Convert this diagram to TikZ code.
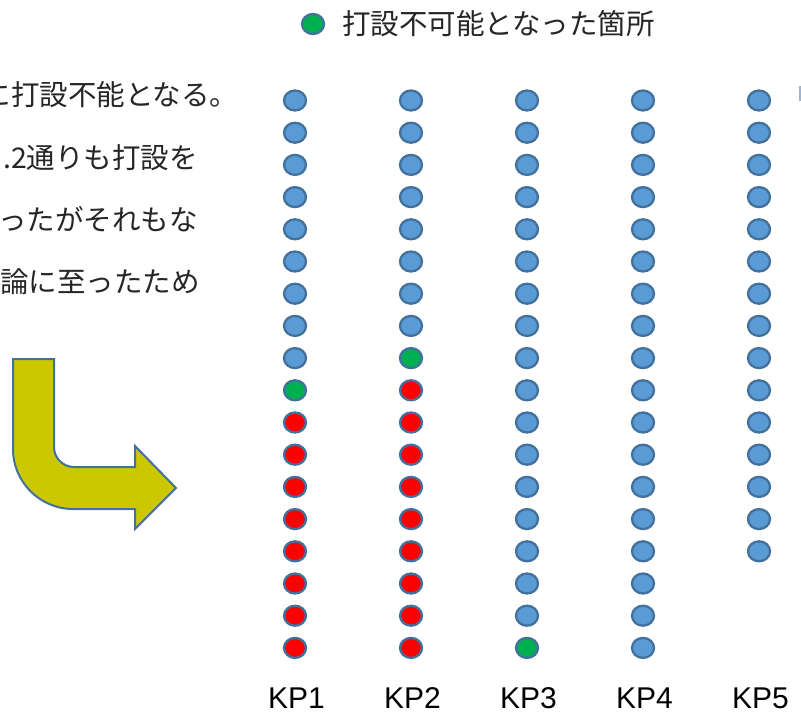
\documentclass[tikz,border=0pt]{standalone}
\usepackage{fontspec}
\usetikzlibrary{shapes.geometric}
\newfontfamily\jpfont{Noto Sans CJK JP}
\newfontfamily\kpfont{Liberation Sans}
\definecolor{dotblue}{HTML}{5B9BD5}
\definecolor{dotline}{HTML}{41719C}
\definecolor{dotred}{HTML}{FF0000}
\definecolor{dotgreen}{HTML}{00B050}
\definecolor{arrowfill}{HTML}{CCC800}
\definecolor{boxline}{HTML}{9DB3D0}
\tikzset{
  dot/.style={ellipse, minimum width=22pt, minimum height=20pt, inner sep=0pt,
              draw=dotline, line width=2.3pt, fill=dotblue},
  ng/.style={dot, fill=dotgreen},
  bad/.style={dot, fill=dotred},
  jptext/.style={inner sep=0pt, anchor=base west, font=\jpfont\fontsize{28.5}{34}\selectfont, text=black!85},
  kp/.style={inner sep=0pt, anchor=base, font=\kpfont\fontsize{30}{36}\selectfont, text=black},
  bentarrow/.style={fill=arrowfill, draw=dotline, line width=2pt, line join=miter}
}
\begin{document}
\begin{tikzpicture}[x=1pt,y=-1pt]
\useasboundingbox (0,0) rectangle (801,715);
\clip (0,0) rectangle (801,715);
\fill[white] (0,0) rectangle (801,715);

% legend
\node[ng] (legdot) at (313,24) {};
\node[jptext] (legtxt) at (342,34) {打設不可能となった箇所};

% left text (cut off at the left edge)
\node[jptext] (t1) at (-17.5,105) {に打設不能となる。};
\node[jptext] (t2) at (3,168) {.2通りも打設を};
\node[jptext] (t3) at (-2,230) {ったがそれもな};
\node[jptext] (t4) at (0,292) {論に至ったため};

% bent arrow
\draw[bentarrow] (13,359) -- (54,359) -- (54,447)
  .. controls (54,458) and (63,467) .. (74,467)
  -- (135,467) -- (135,446) -- (176,488) -- (135,529) -- (135,509)
  -- (73,509) .. controls (40,509) and (13,482) .. (13,449) -- cycle;

% partial box edge at top right
\draw[boxline, line width=1.5pt] (800,86) -- (800,101);

% pile points
\foreach \c/\x/\g/\n in {1/295/10/18, 2/411/9/18, 3/527/18/18, 4/643/0/18, 5/759/0/15} {
  \foreach \r in {1,...,\n} {
    \pgfmathsetmacro\yy{100.5+32.2*(\r-1)}
    \ifnum\g=0 \def\st{dot}\else
      \ifnum\r<\g \def\st{dot}\else
        \ifnum\r=\g \def\st{ng}\else \def\st{bad}\fi
      \fi
    \fi
    \node[\st] (c\c-\r) at (\x,\yy) {};
  }
  \node[kp] (kp\c) at (\x+1.5,708) {KP\c};
}
\end{tikzpicture}
\end{document}
